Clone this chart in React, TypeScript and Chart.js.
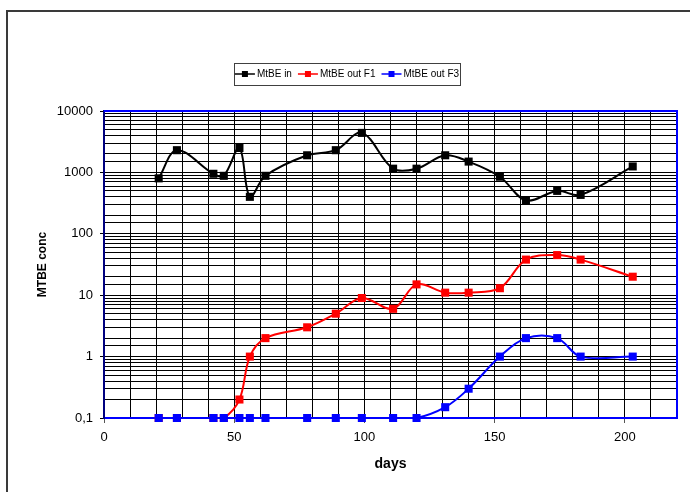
import React, { useEffect, useRef } from 'react';
import { Chart, registerables } from 'chart.js';

Chart.register(...registerables);

// ---- data ----
const days = [21, 28, 42, 46, 52, 56, 62, 78, 89, 99, 111, 120, 131, 140, 152, 162, 174, 183, 203];
const mtbeIn = [800, 2300, 950, 880, 2500, 400, 880, 1900, 2300, 4400, 1150, 1150, 1900, 1500, 850, 350, 500, 430, 1250];
const mtbeOutF1 = [0.1, 0.1, 0.1, 0.1, 0.2, 1, 2, 3, 5, 9, 6, 15, 11, 11, 13, 38, 45, 38, 20];
const mtbeOutF3 = [0.1, 0.1, 0.1, 0.1, 0.1, 0.1, 0.1, 0.1, 0.1, 0.1, 0.1, 0.1, 0.15, 0.3, 1, 2, 2, 1, 1];
const seriesLabels = ['MtBE in', 'MtBE out F1', 'MtBE out F3'];
const seriesColors = ['#000000', '#FF0000', '#0000FF'];
const yDecades = [0.1, 1, 10, 100, 1000, 10000];
const yTickLabels = ['0,1', '1', '10', '100', '1000', '10000'];
const xMajor = [0, 50, 100, 150, 200];
const xTickLabels = ['0', '50', '100', '150', '200'];

const FONT = '"Liberation Sans", Arial, sans-serif';

const decadeIndex = (v: number) => yDecades.findIndex((d) => Math.abs(Math.log10(v) - Math.log10(d)) < 1e-6);
const xMajorIndex = (v: number) => xMajor.findIndex((d) => Math.abs(v - d) < 1e-6);

const framePlugin = {
  id: 'frame',
  beforeDraw(chart: any) {
    const ctx = chart.ctx;
    ctx.save();
    ctx.fillStyle = '#ffffff';
    ctx.fillRect(0, 0, chart.width, chart.height);
    ctx.strokeStyle = '#3a3a3a';
    ctx.lineWidth = 2;
    ctx.strokeRect(7, 11, chart.width + 20, chart.height + 20);
    ctx.restore();
  },
  afterDraw(chart: any) {
    const ctx = chart.ctx;
    const a = chart.chartArea;
    ctx.save();
    ctx.strokeStyle = '#0000FF';
    ctx.lineWidth = 2;
    ctx.beginPath();
    ctx.moveTo(a.left, a.top);
    ctx.lineTo(a.right, a.top);
    ctx.lineTo(a.right, a.bottom);
    ctx.stroke();
    ctx.restore();

    // legend box
    ctx.save();
    ctx.font = '10px ' + FONT;
    const ds = chart.data.datasets;
    const sample = 20;
    const gapST = 2;
    const gapItem = 6;
    const widths = ds.map((d: any) => ctx.measureText(d.label).width);
    const content =
      widths.reduce((s: number, w: number) => s + w, 0) + ds.length * (sample + gapST) + (ds.length - 1) * gapItem;
    const boxX = 234;
    const boxY = 63;
    const boxW = 226;
    const boxH = 22;
    ctx.fillStyle = '#ffffff';
    ctx.fillRect(boxX, boxY, boxW, boxH);
    ctx.strokeStyle = '#404040';
    ctx.lineWidth = 1;
    ctx.strokeRect(boxX + 0.5, boxY + 0.5, boxW, boxH);
    let x = boxX + (boxW - content) / 2;
    const cy = boxY + boxH / 2;
    ds.forEach((d: any, i: number) => {
      ctx.strokeStyle = d.borderColor;
      ctx.lineWidth = 1.5;
      ctx.beginPath();
      ctx.moveTo(x, cy);
      ctx.lineTo(x + sample, cy);
      ctx.stroke();
      ctx.fillStyle = d.backgroundColor;
      ctx.fillRect(x + sample / 2 - 3, cy - 3, 6, 6);
      x += sample + gapST;
      ctx.fillStyle = '#000000';
      ctx.textBaseline = 'middle';
      ctx.textAlign = 'left';
      ctx.fillText(d.label, x, cy);
      x += widths[i] + gapItem;
    });
    ctx.restore();
  },
};

export default function App() {
  const ref = useRef<HTMLCanvasElement | null>(null);

  useEffect(() => {
    if (!ref.current) return;
    const seriesValues = [mtbeIn, mtbeOutF1, mtbeOutF3];
    const datasets = seriesValues.map((vals, i) => ({
      label: seriesLabels[i],
      data: days.map((d, j) => ({ x: d, y: vals[j] })),
      borderColor: seriesColors[i],
      backgroundColor: seriesColors[i],
      pointBackgroundColor: seriesColors[i],
      pointBorderColor: seriesColors[i],
      pointStyle: 'rect' as const,
      pointRadius: 5.7,
      pointBorderWidth: 0,
      borderWidth: 2,
      tension: 0.35,
      order: 3 - i,
      clip: 5,
    }));

    const chart = new Chart(ref.current, {
      type: 'line',
      data: { datasets },
      options: {
        responsive: false,
        animation: false,
        layout: { padding: { top: 111, right: 13, left: 0, bottom: 0 } },
        plugins: {
          legend: { display: false },
          tooltip: { enabled: false },
        },
        scales: {
          x: {
            type: 'linear',
            min: 0,
            max: 220,
            afterFit: (s: any) => {
              s.height = 74;
            },
            ticks: {
              stepSize: 10,
              autoSkip: false,
              maxRotation: 0,
              padding: 7,
              color: '#000000',
              font: { family: FONT, size: 13 },
              callback: (v: any) => {
                const k = xMajorIndex(Number(v));
                return k >= 0 ? xTickLabels[k] : '';
              },
            },
            grid: {
              color: '#000000',
              lineWidth: 1,
              tickLength: 5,
              tickColor: (c: any) => (c.tick && xMajorIndex(c.tick.value) >= 0 ? '#555555' : 'rgba(0,0,0,0)'),
            },
            border: { color: '#0000FF', width: 2 },
            title: {
              display: true,
              text: 'days',
              color: '#000000',
              font: { family: FONT, size: 14, weight: 'bold' },
              padding: { top: 0, bottom: 19 },
            },
          },
          y: {
            type: 'logarithmic',
            min: 0.1,
            max: 10000,
            afterFit: (s: any) => {
              s.width = 104;
            },
            ticks: {
              autoSkip: false,
              padding: 7,
              color: '#000000',
              font: { family: FONT, size: 13 },
              callback: (v: any) => {
                const k = decadeIndex(Number(v));
                return k >= 0 ? yTickLabels[k] : '';
              },
            },
            grid: {
              color: '#000000',
              lineWidth: 1,
              tickLength: 4,
              tickColor: (c: any) => (c.tick && decadeIndex(c.tick.value) >= 0 ? '#000000' : 'rgba(0,0,0,0)'),
            },
            border: { color: '#000080', width: 2 },
            title: {
              display: true,
              text: 'MTBE conc',
              color: '#000000',
              font: { family: FONT, size: 12, weight: 'bold' },
              padding: { top: 35, bottom: 0 },
            },
          },
        },
      },
      plugins: [framePlugin],
    });
    return () => chart.destroy();
  }, []);

  return (
    <div style={{ position: 'absolute', left: 0, top: 0, width: 690, height: 492 }}>
      <canvas ref={ref} width={690} height={492} style={{ width: 690, height: 492, display: 'block' }} />
    </div>
  );
}
